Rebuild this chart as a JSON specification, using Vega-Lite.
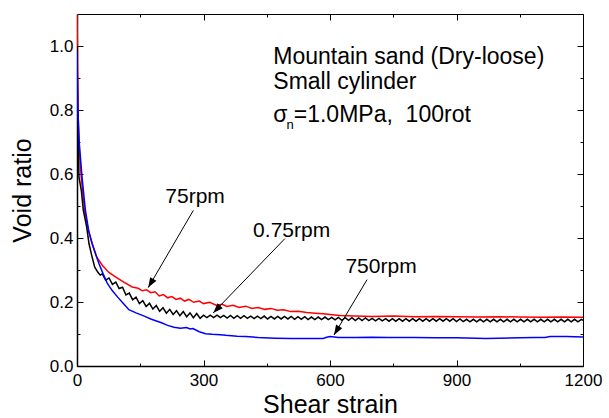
{
  "$schema": "https://vega.github.io/schema/vega-lite/v6.json",
  "width": 506,
  "height": 352,
  "autosize": {"type": "none"},
  "padding": {"left": 77, "top": 14, "right": 26, "bottom": 52},
  "background": "#ffffff",
  "config": {
    "view": {"stroke": "#000000", "strokeWidth": 1},
    "font": "Liberation Sans",
    "axis": {"grid": false, "labelColor": "#000000", "tickColor": "#000000", "domainColor": "#000000", "titleColor": "#000000", "labelFont": "Liberation Sans", "titleFont": "Liberation Sans", "titleFontWeight": "normal", "labelFlush": false, "labelOverlap": false}
  },
  "datasets": {
    "curves": [
      {"s":"75rpm","x":0,"y":1.10},{"s":"75rpm","x":1,"y":1.0},{"s":"75rpm","x":2.4,"y":0.80},{"s":"75rpm","x":4.7,"y":0.694},{"s":"75rpm","x":10,"y":0.59},{"s":"75rpm","x":18,"y":0.486},{"s":"75rpm","x":26,"y":0.43},{"s":"75rpm","x":36,"y":0.382},{"s":"75rpm","x":47,"y":0.34},{"s":"75rpm","x":60,"y":0.315},{"s":"75rpm","x":75,"y":0.293},{"s":"75rpm","x":92,"y":0.278},{"s":"75rpm","x":111,"y":0.262},{"s":"75rpm","x":131,"y":0.247},{"s":"75rpm","x":145,"y":0.243},{"s":"75rpm","x":155,"y":0.235},{"s":"75rpm","x":165,"y":0.238},{"s":"75rpm","x":175,"y":0.229},{"s":"75rpm","x":185,"y":0.232},{"s":"75rpm","x":195,"y":0.219},{"s":"75rpm","x":205,"y":0.223},{"s":"75rpm","x":215,"y":0.213},{"s":"75rpm","x":225,"y":0.217},{"s":"75rpm","x":235,"y":0.208},{"s":"75rpm","x":245,"y":0.212},{"s":"75rpm","x":255,"y":0.203},{"s":"75rpm","x":265,"y":0.208},{"s":"75rpm","x":277,"y":0.199},{"s":"75rpm","x":290,"y":0.203},{"s":"75rpm","x":300,"y":0.195},{"s":"75rpm","x":315,"y":0.199},{"s":"75rpm","x":330,"y":0.19},{"s":"75rpm","x":345,"y":0.193},{"s":"75rpm","x":355,"y":0.186},{"s":"75rpm","x":370,"y":0.19},{"s":"75rpm","x":385,"y":0.183},{"s":"75rpm","x":400,"y":0.187},{"s":"75rpm","x":415,"y":0.18},{"s":"75rpm","x":430,"y":0.183},{"s":"75rpm","x":445,"y":0.177},{"s":"75rpm","x":460,"y":0.18},{"s":"75rpm","x":475,"y":0.174},{"s":"75rpm","x":490,"y":0.176},{"s":"75rpm","x":507,"y":0.17},{"s":"75rpm","x":525,"y":0.171},{"s":"75rpm","x":545,"y":0.167},{"s":"75rpm","x":565,"y":0.165},{"s":"75rpm","x":584,"y":0.163},{"s":"75rpm","x":600,"y":0.161},{"s":"75rpm","x":623,"y":0.158},{"s":"75rpm","x":660,"y":0.156},{"s":"75rpm","x":700,"y":0.155},{"s":"75rpm","x":750,"y":0.156},{"s":"75rpm","x":800,"y":0.154},{"s":"75rpm","x":850,"y":0.155},{"s":"75rpm","x":900,"y":0.154},{"s":"75rpm","x":950,"y":0.153},{"s":"75rpm","x":1000,"y":0.154},{"s":"75rpm","x":1050,"y":0.153},{"s":"75rpm","x":1100,"y":0.152},{"s":"75rpm","x":1150,"y":0.153},{"s":"75rpm","x":1200,"y":0.152},
      {"s":"0.75rpm","x":0,"y":1.0},{"s":"0.75rpm","x":1.5,"y":0.80},{"s":"0.75rpm","x":4.7,"y":0.59},{"s":"0.75rpm","x":10.3,"y":0.548},{"s":"0.75rpm","x":15,"y":0.486},{"s":"0.75rpm","x":23,"y":0.434},{"s":"0.75rpm","x":28.5,"y":0.382},{"s":"0.75rpm","x":35,"y":0.345},{"s":"0.75rpm","x":42,"y":0.309},{"s":"0.75rpm","x":50,"y":0.292},{"s":"0.75rpm","x":55,"y":0.284},
      {"s":"0.75rpm","x":60,"y":0.288},{"s":"0.75rpm","x":68,"y":0.268},{"s":"0.75rpm","x":76,"y":0.275},{"s":"0.75rpm","x":84,"y":0.255},{"s":"0.75rpm","x":92,"y":0.262},{"s":"0.75rpm","x":100,"y":0.242},{"s":"0.75rpm","x":108,"y":0.246},{"s":"0.75rpm","x":116,"y":0.222},{"s":"0.75rpm","x":124,"y":0.228},{"s":"0.75rpm","x":132,"y":0.207},{"s":"0.75rpm","x":140,"y":0.215},{"s":"0.75rpm","x":148,"y":0.195},{"s":"0.75rpm","x":156,"y":0.204},{"s":"0.75rpm","x":164,"y":0.186},{"s":"0.75rpm","x":172,"y":0.196},{"s":"0.75rpm","x":180,"y":0.178},{"s":"0.75rpm","x":188,"y":0.189},{"s":"0.75rpm","x":196,"y":0.171},{"s":"0.75rpm","x":204,"y":0.182},{"s":"0.75rpm","x":212,"y":0.165},{"s":"0.75rpm","x":220,"y":0.177},{"s":"0.75rpm","x":228,"y":0.161},{"s":"0.75rpm","x":236,"y":0.173},{"s":"0.75rpm","x":244,"y":0.157},{"s":"0.75rpm","x":252,"y":0.17},{"s":"0.75rpm","x":260,"y":0.154},{"s":"0.75rpm","x":268,"y":0.166},{"s":"0.75rpm","x":276,"y":0.151},{"s":"0.75rpm","x":284,"y":0.164},{"s":"0.75rpm","x":292,"y":0.149},{"s":"0.75rpm","x":300,"y":0.159},{"s":"0.75rpm","x":308,"y":0.151},{"s":"0.75rpm","x":316,"y":0.159},{"s":"0.75rpm","x":324,"y":0.151},{"s":"0.75rpm","x":332,"y":0.159},{"s":"0.75rpm","x":340,"y":0.151},{"s":"0.75rpm","x":348,"y":0.158},{"s":"0.75rpm","x":356,"y":0.15},{"s":"0.75rpm","x":364,"y":0.158},{"s":"0.75rpm","x":372,"y":0.149},{"s":"0.75rpm","x":380,"y":0.157},{"s":"0.75rpm","x":388,"y":0.149},{"s":"0.75rpm","x":396,"y":0.157},{"s":"0.75rpm","x":404,"y":0.149},{"s":"0.75rpm","x":412,"y":0.156},{"s":"0.75rpm","x":420,"y":0.148},{"s":"0.75rpm","x":428,"y":0.156},{"s":"0.75rpm","x":436,"y":0.148},{"s":"0.75rpm","x":444,"y":0.156},{"s":"0.75rpm","x":452,"y":0.147},{"s":"0.75rpm","x":460,"y":0.155},{"s":"0.75rpm","x":468,"y":0.147},{"s":"0.75rpm","x":476,"y":0.155},{"s":"0.75rpm","x":484,"y":0.147},{"s":"0.75rpm","x":492,"y":0.155},{"s":"0.75rpm","x":500,"y":0.147},{"s":"0.75rpm","x":508,"y":0.155},{"s":"0.75rpm","x":516,"y":0.146},{"s":"0.75rpm","x":524,"y":0.154},{"s":"0.75rpm","x":532,"y":0.146},{"s":"0.75rpm","x":540,"y":0.154},{"s":"0.75rpm","x":548,"y":0.145},{"s":"0.75rpm","x":556,"y":0.153},{"s":"0.75rpm","x":564,"y":0.145},{"s":"0.75rpm","x":572,"y":0.153},{"s":"0.75rpm","x":580,"y":0.145},{"s":"0.75rpm","x":588,"y":0.153},{"s":"0.75rpm","x":596,"y":0.145},{"s":"0.75rpm","x":604,"y":0.152},{"s":"0.75rpm","x":612,"y":0.144},{"s":"0.75rpm","x":620,"y":0.152},{"s":"0.75rpm","x":628,"y":0.143},{"s":"0.75rpm","x":636,"y":0.151},{"s":"0.75rpm","x":644,"y":0.143},{"s":"0.75rpm","x":652,"y":0.151},{"s":"0.75rpm","x":660,"y":0.142},{"s":"0.75rpm","x":668,"y":0.15},{"s":"0.75rpm","x":676,"y":0.142},{"s":"0.75rpm","x":684,"y":0.15},{"s":"0.75rpm","x":692,"y":0.142},{"s":"0.75rpm","x":700,"y":0.149},{"s":"0.75rpm","x":708,"y":0.141},{"s":"0.75rpm","x":716,"y":0.149},{"s":"0.75rpm","x":724,"y":0.141},{"s":"0.75rpm","x":732,"y":0.148},{"s":"0.75rpm","x":740,"y":0.14},{"s":"0.75rpm","x":748,"y":0.148},{"s":"0.75rpm","x":756,"y":0.14},{"s":"0.75rpm","x":764,"y":0.148},{"s":"0.75rpm","x":772,"y":0.14},{"s":"0.75rpm","x":780,"y":0.148},{"s":"0.75rpm","x":788,"y":0.14},{"s":"0.75rpm","x":796,"y":0.148},{"s":"0.75rpm","x":804,"y":0.14},{"s":"0.75rpm","x":812,"y":0.148},{"s":"0.75rpm","x":820,"y":0.14},{"s":"0.75rpm","x":828,"y":0.148},{"s":"0.75rpm","x":836,"y":0.14},{"s":"0.75rpm","x":844,"y":0.148},{"s":"0.75rpm","x":852,"y":0.14},{"s":"0.75rpm","x":860,"y":0.148},{"s":"0.75rpm","x":868,"y":0.14},{"s":"0.75rpm","x":876,"y":0.148},{"s":"0.75rpm","x":884,"y":0.14},{"s":"0.75rpm","x":892,"y":0.148},{"s":"0.75rpm","x":900,"y":0.139},{"s":"0.75rpm","x":908,"y":0.147},{"s":"0.75rpm","x":916,"y":0.139},{"s":"0.75rpm","x":924,"y":0.146},{"s":"0.75rpm","x":932,"y":0.138},{"s":"0.75rpm","x":940,"y":0.146},{"s":"0.75rpm","x":948,"y":0.138},{"s":"0.75rpm","x":956,"y":0.146},{"s":"0.75rpm","x":964,"y":0.138},{"s":"0.75rpm","x":972,"y":0.146},{"s":"0.75rpm","x":980,"y":0.138},{"s":"0.75rpm","x":988,"y":0.146},{"s":"0.75rpm","x":996,"y":0.138},{"s":"0.75rpm","x":1004,"y":0.146},{"s":"0.75rpm","x":1012,"y":0.138},{"s":"0.75rpm","x":1020,"y":0.146},{"s":"0.75rpm","x":1028,"y":0.138},{"s":"0.75rpm","x":1036,"y":0.146},{"s":"0.75rpm","x":1044,"y":0.138},{"s":"0.75rpm","x":1052,"y":0.146},{"s":"0.75rpm","x":1060,"y":0.138},{"s":"0.75rpm","x":1068,"y":0.146},{"s":"0.75rpm","x":1076,"y":0.138},{"s":"0.75rpm","x":1084,"y":0.146},{"s":"0.75rpm","x":1092,"y":0.138},{"s":"0.75rpm","x":1100,"y":0.146},{"s":"0.75rpm","x":1108,"y":0.138},{"s":"0.75rpm","x":1116,"y":0.146},{"s":"0.75rpm","x":1124,"y":0.138},{"s":"0.75rpm","x":1132,"y":0.146},{"s":"0.75rpm","x":1140,"y":0.138},{"s":"0.75rpm","x":1148,"y":0.146},{"s":"0.75rpm","x":1156,"y":0.138},{"s":"0.75rpm","x":1164,"y":0.146},{"s":"0.75rpm","x":1172,"y":0.138},{"s":"0.75rpm","x":1180,"y":0.146},{"s":"0.75rpm","x":1188,"y":0.138},{"s":"0.75rpm","x":1196,"y":0.146},{"s":"0.75rpm","x":1200,"y":0.143},
      {"s":"750rpm","x":0,"y":0.98},{"s":"750rpm","x":2,"y":0.80},{"s":"750rpm","x":5.5,"y":0.694},{"s":"750rpm","x":12,"y":0.59},{"s":"750rpm","x":20,"y":0.486},{"s":"750rpm","x":28,"y":0.42},{"s":"750rpm","x":36,"y":0.382},{"s":"750rpm","x":44,"y":0.35},{"s":"750rpm","x":52,"y":0.32},{"s":"750rpm","x":62,"y":0.288},{"s":"750rpm","x":72,"y":0.258},{"s":"750rpm","x":84,"y":0.235},{"s":"750rpm","x":96,"y":0.216},{"s":"750rpm","x":110,"y":0.195},{"s":"750rpm","x":123,"y":0.176},{"s":"750rpm","x":140,"y":0.166},{"s":"750rpm","x":161,"y":0.155},{"s":"750rpm","x":175,"y":0.147},{"s":"750rpm","x":190,"y":0.14},{"s":"750rpm","x":199,"y":0.136},{"s":"750rpm","x":215,"y":0.127},{"s":"750rpm","x":230,"y":0.121},{"s":"750rpm","x":245,"y":0.118},{"s":"750rpm","x":260,"y":0.12},{"s":"750rpm","x":268,"y":0.116},{"s":"750rpm","x":275,"y":0.117},{"s":"750rpm","x":290,"y":0.107},{"s":"750rpm","x":305,"y":0.101},{"s":"750rpm","x":320,"y":0.099},{"s":"750rpm","x":340,"y":0.098},{"s":"750rpm","x":353,"y":0.096},{"s":"750rpm","x":380,"y":0.093},{"s":"750rpm","x":400,"y":0.092},{"s":"750rpm","x":430,"y":0.089},{"s":"750rpm","x":470,"y":0.087},{"s":"750rpm","x":507,"y":0.086},{"s":"750rpm","x":550,"y":0.086},{"s":"750rpm","x":584,"y":0.086},{"s":"750rpm","x":592,"y":0.09},{"s":"750rpm","x":600,"y":0.092},{"s":"750rpm","x":620,"y":0.089},{"s":"750rpm","x":660,"y":0.089},{"s":"750rpm","x":700,"y":0.09},{"s":"750rpm","x":738,"y":0.089},{"s":"750rpm","x":800,"y":0.089},{"s":"750rpm","x":850,"y":0.088},{"s":"750rpm","x":900,"y":0.088},{"s":"750rpm","x":969,"y":0.086},{"s":"750rpm","x":1000,"y":0.087},{"s":"750rpm","x":1050,"y":0.088},{"s":"750rpm","x":1085,"y":0.089},{"s":"750rpm","x":1110,"y":0.089},{"s":"750rpm","x":1122,"y":0.092},{"s":"750rpm","x":1160,"y":0.092},{"s":"750rpm","x":1200,"y":0.091}
    ],
    "arrows": [
      {"id":"a1","x":275.8,"y":0.486,"x2":169,"y2":0.245},
      {"id":"a2","x":493,"y":0.398,"x2":323,"y2":0.166},
      {"id":"a3","x":688,"y":0.27,"x2":609.5,"y2":0.097}
    ],
    "labels": [
      {"t":"75rpm","x":280,"y":0.508},
      {"t":"0.75rpm","x":509,"y":0.403},
      {"t":"750rpm","x":721,"y":0.29}
    ],
    "notes": [
      {"t":"Mountain sand (Dry-loose)","x":465.5,"y":0.945},
      {"t":"Small cylinder","x":465.5,"y":0.865},
      {"t":"σ","x":465.5,"y":0.761},
      {"t":"=1.0MPa,\u00a0\u00a0100rot","x":514,"y":0.761}
    ],
    "subs": [
      {"t":"n","x":497,"y":0.741}
    ]
  },
  "layer": [
    {
      "data": {"name": "curves"},
      "mark": {"type": "line", "strokeWidth": 1.5, "clip": true},
      "encoding": {
        "x": {"field": "x", "type": "quantitative", "scale": {"domain": [0, 1200], "nice": false, "zero": false},
          "axis": {"orient": "bottom", "values": [0,150,300,450,600,750,900,1050,1200], "format": "d", "labelExpr": "datum.value % 300 === 0 ? datum.label : ''", "tickSize": {"condition": {"test": "datum.value % 300 === 0", "value": -6}, "value": -3}, "labelPadding": 12, "labelFontSize": 17, "title": "Shear strain", "titleFontSize": 25, "titlePadding": 1, "domainWidth": 1.5, "tickWidth": 1}},
        "y": {"field": "y", "type": "quantitative", "scale": {"domain": [0, 1.1], "nice": false, "zero": false},
          "axis": {"orient": "left", "values": [0,0.1,0.2,0.3,0.4,0.5,0.6,0.7,0.8,0.9,1.0], "format": ".1f", "labelExpr": "round(datum.value*10) % 2 === 0 ? datum.label : ''", "tickSize": {"condition": {"test": "round(datum.value*10) % 2 === 0", "value": -6}, "value": -3}, "labelPadding": 10, "labelFontSize": 17, "title": "Void ratio", "titleFontSize": 25, "titlePadding": 14, "domainWidth": 1.5, "tickWidth": 1}},
        "color": {"field": "s", "type": "nominal", "scale": {"domain": ["75rpm", "0.75rpm", "750rpm"], "range": ["#ff0000", "#000000", "#0000ff"]}, "legend": null}
      }
    },
    {
      "data": {"name": "arrows"},
      "mark": {"type": "rule", "color": "#000000", "strokeWidth": 1},
      "encoding": {
        "x": {"field": "x", "type": "quantitative", "scale": {"domain": [0, 1200], "nice": false, "zero": false},
          "axis": {"orient": "top", "values": [0,150,300,450,600,750,900,1050,1200], "labels": false, "title": null, "domain": false, "tickSize": {"condition": {"test": "datum.value % 300 === 0", "value": -6}, "value": -3}}},
        "y": {"field": "y", "type": "quantitative", "scale": {"domain": [0, 1.1], "nice": false, "zero": false},
          "axis": {"orient": "right", "values": [0,0.1,0.2,0.3,0.4,0.5,0.6,0.7,0.8,0.9,1.0], "labels": false, "title": null, "domain": false, "tickSize": {"condition": {"test": "round(datum.value*10) % 2 === 0", "value": -6}, "value": -3}}},
        "x2": {"field": "x2"},
        "y2": {"field": "y2"}
      }
    },
    {
      "data": {"name": "arrows"},
      "transform": [{"filter": "datum.id === 'a1'"}],
      "mark": {"type": "point", "shape": "M0,0L-0.36,1L0.36,1Z", "filled": true, "color": "#000000", "opacity": 1, "size": 400, "angle": 210},
      "encoding": {
        "x": {"field": "x2", "type": "quantitative", "scale": {"domain": [0, 1200], "nice": false, "zero": false}, "axis": null},
        "y": {"field": "y2", "type": "quantitative", "scale": {"domain": [0, 1.1], "nice": false, "zero": false}, "axis": null}
      }
    },
    {
      "data": {"name": "arrows"},
      "transform": [{"filter": "datum.id === 'a2'"}],
      "mark": {"type": "point", "shape": "M0,0L-0.36,1L0.36,1Z", "filled": true, "color": "#000000", "opacity": 1, "size": 400, "angle": 224},
      "encoding": {
        "x": {"field": "x2", "type": "quantitative", "scale": {"domain": [0, 1200], "nice": false, "zero": false}, "axis": null},
        "y": {"field": "y2", "type": "quantitative", "scale": {"domain": [0, 1.1], "nice": false, "zero": false}, "axis": null}
      }
    },
    {
      "data": {"name": "arrows"},
      "transform": [{"filter": "datum.id === 'a3'"}],
      "mark": {"type": "point", "shape": "M0,0L-0.36,1L0.36,1Z", "filled": true, "color": "#000000", "opacity": 1, "size": 400, "angle": 211},
      "encoding": {
        "x": {"field": "x2", "type": "quantitative", "scale": {"domain": [0, 1200], "nice": false, "zero": false}, "axis": null},
        "y": {"field": "y2", "type": "quantitative", "scale": {"domain": [0, 1.1], "nice": false, "zero": false}, "axis": null}
      }
    },
    {
      "data": {"name": "labels"},
      "mark": {"type": "text", "font": "Liberation Sans", "fontSize": 21, "align": "center", "baseline": "alphabetic", "color": "#000000"},
      "encoding": {
        "x": {"field": "x", "type": "quantitative", "scale": {"domain": [0, 1200], "nice": false, "zero": false}, "axis": null},
        "y": {"field": "y", "type": "quantitative", "scale": {"domain": [0, 1.1], "nice": false, "zero": false}, "axis": null},
        "text": {"field": "t"}
      }
    },
    {
      "data": {"name": "notes"},
      "mark": {"type": "text", "font": "Liberation Sans", "fontSize": 23, "align": "left", "baseline": "alphabetic", "color": "#000000"},
      "encoding": {
        "x": {"field": "x", "type": "quantitative", "scale": {"domain": [0, 1200], "nice": false, "zero": false}, "axis": null},
        "y": {"field": "y", "type": "quantitative", "scale": {"domain": [0, 1.1], "nice": false, "zero": false}, "axis": null},
        "text": {"field": "t"}
      }
    },
    {
      "data": {"name": "subs"},
      "mark": {"type": "text", "font": "Liberation Sans", "fontSize": 13, "align": "left", "baseline": "alphabetic", "color": "#000000"},
      "encoding": {
        "x": {"field": "x", "type": "quantitative", "scale": {"domain": [0, 1200], "nice": false, "zero": false}, "axis": null},
        "y": {"field": "y", "type": "quantitative", "scale": {"domain": [0, 1.1], "nice": false, "zero": false}, "axis": null},
        "text": {"field": "t"}
      }
    }
  ],
  "resolve": {"axis": {"x": "independent", "y": "independent"}}
}
